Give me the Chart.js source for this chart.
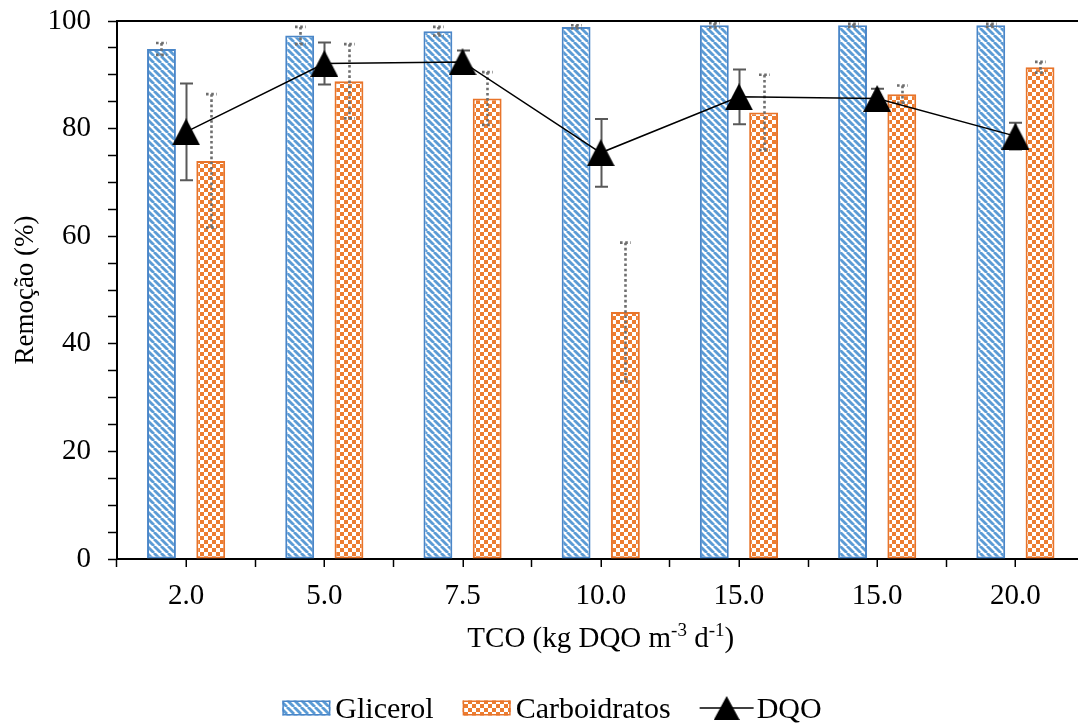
<!DOCTYPE html>
<html><head><meta charset="utf-8">
<script src="https://cdn.jsdelivr.net/npm/chart.js@4.4.0/dist/chart.umd.min.js"></script>
<style>
html,body{margin:0;padding:0;overflow:hidden;background:#fff;width:1078px;height:724px}
#wrap{position:absolute;left:0;top:0;width:1100px;height:724px}
</style>
</head><body><div id="wrap"><canvas id="c" width="1100" height="724"></canvas></div>
<script>
const categories = ['2.0', '5.0', '7.5', '10.0', '15.0', '15.0', '20.0'];
const glicerol = [94.8, 97.3, 98.1, 98.9, 99.2, 99.2, 99.2];
const glicerolErr = [1.1, 1.6, 0.8, 0.3, 0.4, 0.3, 0.3];
const carboidratos = [74.0, 88.8, 85.6, 45.9, 83.0, 86.4, 91.4];
const carboidratosErr = [12.4, 6.9, 4.9, 12.9, 7.0, 1.6, 1.0];
const dqo = [79.4, 92.1, 92.4, 75.5, 85.9, 85.6, 78.6];
const dqoErr = [9.0, 3.9, 2.1, 6.3, 5.1, 1.8, 2.5];
const yTickLabels = [0, 20, 40, 60, 80, 100];

const FONT = 'Liberation Serif';
const TICK_SIZE = 29;
const BLUE = '#5B9BD5';
const BLUE_BORDER = '#4A86C8';
const ORANGE = '#ED7D31';
const ORANGE_BORDER = '#E8742A';

function stripePattern(color) {
  const s = 7, c = document.createElement('canvas');
  c.width = c.height = s;
  const g = c.getContext('2d');
  g.fillStyle = '#fff'; g.fillRect(0, 0, s, s);
  g.strokeStyle = color; g.lineWidth = 2.8;
  for (const o of [-s, 0, s]) { g.beginPath(); g.moveTo(o, 0); g.lineTo(o + s, s); g.stroke(); }
  return g.createPattern(c, 'repeat');
}
function checkerPattern(color) {
  const c = document.createElement('canvas');
  c.width = c.height = 8;
  const g = c.getContext('2d');
  g.fillStyle = '#fff'; g.fillRect(0, 0, 8, 8);
  g.fillStyle = color; g.fillRect(0, 0, 4, 4); g.fillRect(4, 4, 4, 4);
  return g.createPattern(c, 'repeat');
}
function triangleImage(w, h) {
  const c = document.createElement('canvas');
  c.width = w; c.height = h;
  const g = c.getContext('2d');
  g.fillStyle = '#000';
  g.beginPath(); g.moveTo(0, h); g.lineTo(w / 2, 0); g.lineTo(w, h); g.closePath(); g.fill();
  return c;
}
const stripe = stripePattern(BLUE);
const checker = checkerPattern(ORANGE);
const tri = triangleImage(28, 27);

function drawErr(chart, idx, errs, st) {
  const meta = chart.getDatasetMeta(idx);
  const y = chart.scales.y, g = chart.ctx;
  const vals = chart.data.datasets[idx].data;
  g.save();
  g.strokeStyle = st.color; g.lineWidth = st.width; g.setLineDash(st.dash); g.lineCap = 'butt';
  meta.data.forEach((el, i) => {
    const x = Math.round(el.x) + 0.5;
    const top = y.getPixelForValue(vals[i] + errs[i]);
    const bot = y.getPixelForValue(vals[i] - errs[i]);
    g.beginPath();
    g.moveTo(x, top); g.lineTo(x, bot);
    g.moveTo(x - st.cap / 2, top); g.lineTo(x + st.cap / 2, top);
    g.moveTo(x - st.cap / 2, bot); g.lineTo(x + st.cap / 2, bot);
    g.stroke();
  });
  g.restore();
}

const barErrStyle = {color: '#6E6E6E', width: 2.6, dash: [2.6, 2.6], cap: 11};
const lineErrStyle = {color: '#595959', width: 2, dash: [], cap: 13};

const extras = {
  id: 'extras',
  beforeDatasetDraw(chart, args) {
    const ds = chart.data.datasets[args.index];
    if (ds.type === 'line' && ds.errors) drawErr(chart, args.index, ds.errors, lineErrStyle);
  },
  afterDatasetDraw(chart, args) {
    const ds = chart.data.datasets[args.index];
    if (ds.type !== 'line' && ds.errors) drawErr(chart, args.index, ds.errors, barErrStyle);
  },
  afterDraw(chart) {
    const g = chart.ctx, a = chart.chartArea, x = chart.scales.x;
    g.save();
    g.strokeStyle = '#000'; g.lineWidth = 2;
    g.beginPath(); g.moveTo(a.left, a.top); g.lineTo(a.right, a.top); g.stroke();
    g.lineWidth = 1.5;
    for (let i = 0; i < categories.length; i++) {
      const px = Math.round(x.getPixelForValue(i)) + 0.25;
      g.beginPath(); g.moveTo(px, a.bottom); g.lineTo(px, a.bottom + 8); g.stroke();
    }
    // x axis title with superscripts
    const parts = [['TCO (kg DQO m', false], ['-3', true], [' d', false], ['-1', true], [')', false]];
    const mainF = '29px "' + FONT + '"', supF = '19px "' + FONT + '"';
    let total = 0;
    parts.forEach(p => { g.font = p[1] ? supF : mainF; total += g.measureText(p[0]).width; });
    let cx = (a.left + a.right) / 2 - total / 2;
    const base = 647;
    g.fillStyle = '#000'; g.textBaseline = 'alphabetic'; g.textAlign = 'left';
    parts.forEach(p => {
      g.font = p[1] ? supF : mainF;
      g.fillText(p[0], cx, p[1] ? base - 11 : base);
      cx += g.measureText(p[0]).width;
    });
    // legend
    const ds = chart.data.datasets;
    const items = [{ds: ds[1], kind: 'bar'}, {ds: ds[2], kind: 'bar'}, {ds: ds[0], kind: 'line'}];
    g.font = '30px "' + FONT + '"';
    const swW = 48, swH = 15, gapSw = 5, gapItems = 29, lineW = 54, gapLine = 3;
    let tw = 0;
    items.forEach((it, i) => {
      tw += (it.kind === 'bar' ? swW + gapSw : lineW + gapLine) + g.measureText(it.ds.label).width;
      if (i < items.length - 1) tw += gapItems;
    });
    let lx = chart.width / 2 - tw / 2 + 2;
    const cy = 708, tb = 718;
    items.forEach(it => {
      if (it.kind === 'bar') {
        g.fillStyle = it.ds.backgroundColor;
        g.fillRect(lx, cy - swH / 2, swW, swH);
        g.strokeStyle = it.ds.borderColor; g.lineWidth = 1.5;
        g.strokeRect(lx + 0.75, cy - swH / 2 + 0.75, swW - 1.5, swH - 1.5);
        lx += swW + gapSw;
      } else {
        g.strokeStyle = '#000'; g.lineWidth = 1.5;
        g.beginPath(); g.moveTo(lx, cy); g.lineTo(lx + lineW, cy); g.stroke();
        const t = triangleImage(26, 24);
        g.drawImage(t, lx + lineW / 2 - 13, cy - 12);
        lx += lineW + gapLine;
      }
      g.fillStyle = '#000'; g.textBaseline = 'alphabetic';
      g.fillText(it.ds.label, lx, tb);
      lx += g.measureText(it.ds.label).width + gapItems;
    });
    g.restore();
  }
};

new Chart(document.getElementById('c'), {
  type: 'bar',
  data: {
    labels: categories,
    datasets: [
      {type: 'line', label: 'DQO', data: dqo, errors: dqoErr, borderColor: '#000', borderWidth: 1.5,
       backgroundColor: '#000', pointStyle: tri, pointRadius: 14, tension: 0, fill: false, order: 0},
      {label: 'Glicerol', data: glicerol, errors: glicerolErr, backgroundColor: stripe, borderColor: BLUE_BORDER,
       borderWidth: 2, borderSkipped: false, categoryPercentage: 0.713, barPercentage: 0.586, order: 1},
      {label: 'Carboidratos', data: carboidratos, errors: carboidratosErr, backgroundColor: checker, borderColor: ORANGE_BORDER,
       borderWidth: 2, borderSkipped: false, categoryPercentage: 0.713, barPercentage: 0.586, order: 1}
    ]
  },
  options: {
    responsive: false,
    animation: false,
    events: [],
    layout: {padding: {top: 21, right: 12, left: 0, bottom: 0}},
    plugins: {legend: {display: false}, tooltip: {enabled: false}},
    scales: {
      x: {
        offset: true,
        grid: {offset: true, drawOnChartArea: false, drawTicks: true, tickLength: 8, tickColor: '#000', tickWidth: 1.5},
        border: {color: '#000', width: 2},
        ticks: {font: {family: FONT, size: TICK_SIZE}, color: '#000', padding: 12, maxRotation: 0, autoSkip: false},
        afterFit(s) { s.height = 165; s.paddingLeft = 0; s.paddingRight = 0; }
      },
      y: {
        min: 0, max: 100,
        grid: {drawOnChartArea: false, drawTicks: true, tickLength: 9, tickColor: '#000', tickWidth: 1.5},
        border: {color: '#000', width: 2},
        ticks: {stepSize: 5, autoSkip: false, color: '#000', padding: 17, font: {family: FONT, size: TICK_SIZE},
                callback: v => yTickLabels.includes(v) ? String(v) : ''},
        title: {display: true, text: 'Remoção (%)', color: '#000', font: {family: FONT, size: 27}, padding: {top: 10, bottom: 0}},
        afterFit(s) { s.width = 117; s.paddingTop = 0; s.paddingBottom = 0; }
      }
    }
  },
  plugins: [extras]
});
</script>
</body></html>
